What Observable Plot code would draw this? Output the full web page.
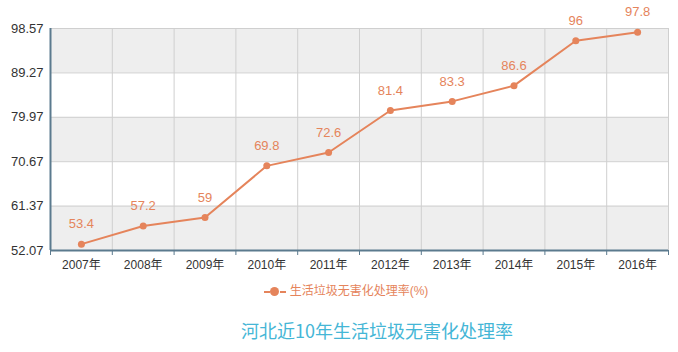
<!DOCTYPE html>
<html><head><meta charset="utf-8">
<script src="https://cdn.jsdelivr.net/npm/d3@7"></script>
<script src="https://cdn.jsdelivr.net/npm/@observablehq/plot@0.6"></script>
<style>
body{margin:0;background:#fff;width:678px;height:352px;position:relative;overflow:hidden;font-family:"Liberation Sans",Arial,"Noto Sans CJK SC",sans-serif;}
#chart{position:absolute;left:0;top:0;}
#legend{position:absolute;left:0;width:678px;top:283px;text-align:center;font-size:12px;color:#e5845b;line-height:16px;padding-left:14px;box-sizing:border-box;font-family:"Liberation Sans","Noto Sans CJK SC",sans-serif;}
#legend .sw{display:inline-block;position:relative;width:22px;height:10px;vertical-align:-1px;margin-right:4px;}
#legend .sw:before{content:"";position:absolute;left:0;right:0;top:5px;border-top:2px dashed #e5845b;}
#legend .sw:after{content:"";position:absolute;left:6px;top:1px;width:9px;height:9px;border-radius:50%;background:#e5845b;}
#title{position:absolute;left:0;width:678px;top:318px;text-align:center;font-size:18px;color:#45b6d6;line-height:24px;padding-left:76px;box-sizing:border-box;font-family:"Noto Sans CJK SC",sans-serif;}
</style></head>
<body>
<div id="chart"></div>
<div id="legend"><span class="sw"></span>生活垃圾无害化处理率(%)</div>
<div id="title">河北近10年生活垃圾无害化处理率</div>
<script>
const years = ["2007年","2008年","2009年","2010年","2011年","2012年","2013年","2014年","2015年","2016年"];
const values = [53.4, 57.2, 59, 69.8, 72.6, 81.4, 83.3, 86.6, 96, 97.8];
const yTicks = [52.07, 61.37, 70.67, 79.97, 89.27, 98.57];
const seriesName = "生活垃圾无害化处理率(%)";

const data = years.map((y, i) => ({i, year: y, v: values[i]}));
const bands = [];
for (let k = 0; k < yTicks.length - 1; k += 2) bands.push({y1: yTicks[k], y2: yTicks[k+1]});
const boundaries = d3.range(years.length + 1).map(k => k - 0.5);
const orange = "#e5845b";
const axisColor = "#5b7a8e";

const chart = Plot.plot({
  width: 678,
  height: 275,
  marginLeft: 50,
  marginRight: 10,
  marginTop: 28,
  marginBottom: 25,
  style: {fontFamily: '"Liberation Sans", Arial, "Noto Sans CJK SC", sans-serif', background: "transparent"},
  x: {type: "linear", domain: [-0.5, years.length - 0.5]},
  y: {domain: [yTicks[0], yTicks[yTicks.length-1]]},
  marks: [
    Plot.rect(bands, {y1: "y1", y2: "y2", fill: "#eeeeee"}),
    Plot.ruleY(yTicks, {stroke: "#cfcfcf", strokeWidth: 1}),
    Plot.ruleX(boundaries, {stroke: "#cfcfcf", strokeWidth: 1}),
    Plot.axisY(yTicks, {tickSize: 0, tickPadding: 7, tickFormat: d => d.toFixed(2), fontSize: 13, fill: "#333", label: null}),
    Plot.axisX(boundaries, {tickSize: 5, tickFormat: () => "", stroke: axisColor, label: null}),
    Plot.axisX(d3.range(years.length), {tickSize: 0, tickPadding: 10, tickFormat: i => years[i], fontSize: 12, fill: "#333", label: null}),
    Plot.ruleX([-0.5], {stroke: axisColor, strokeWidth: 2}),
    Plot.ruleY([yTicks[0]], {stroke: axisColor, strokeWidth: 2}),
    Plot.line(data, {x: "i", y: "v", stroke: orange, strokeWidth: 2}),
    Plot.dot(data, {x: "i", y: "v", r: 3.5, fill: orange, stroke: "none"}),
    Plot.text(data, {x: "i", y: "v", text: d => String(d.v), dy: -20, fill: orange, fontSize: 13})
  ]
});
document.getElementById("chart").appendChild(chart);
</script>
</body></html>
